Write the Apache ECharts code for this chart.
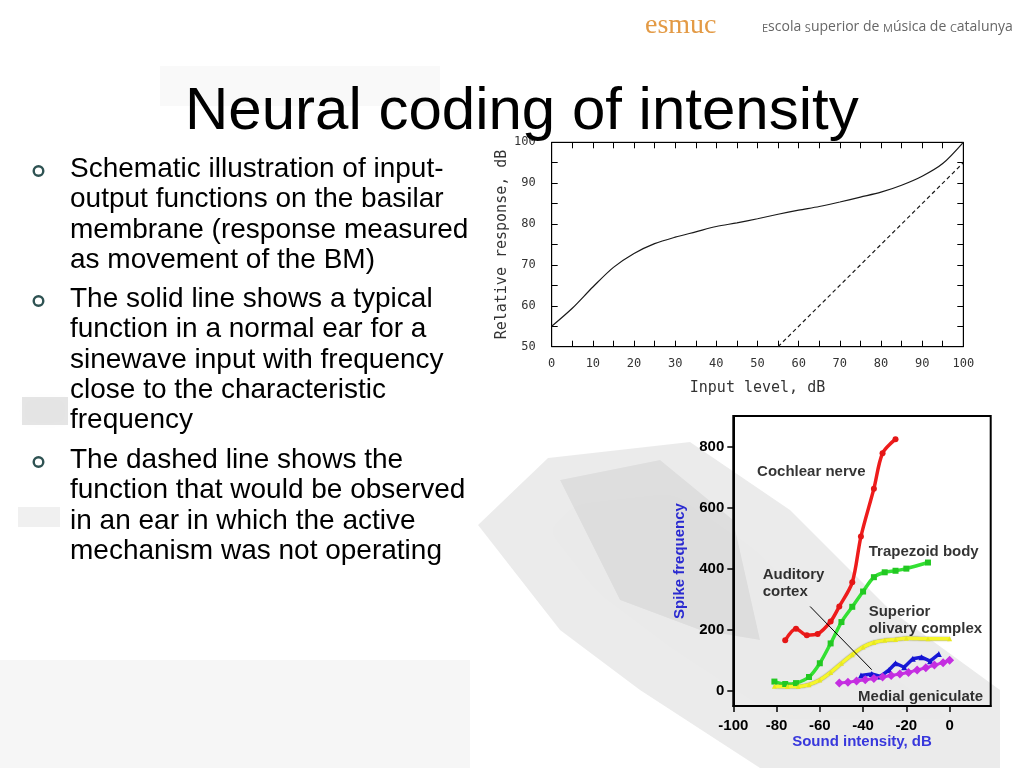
<!DOCTYPE html>
<html><head><meta charset="utf-8">
<script src="https://cdn.jsdelivr.net/npm/echarts@6/dist/echarts.min.js"></script>
<style>html,body{margin:0;padding:0;background:#fff}#c{width:1024px;height:768px}</style>
</head><body><div id="c"></div>
<script>
// ---- Top chart: basilar membrane input-output function ----
const inputLevel = [0,5,10,15,20,25,30,35,40,45,50,55,60,65,70,75,80,85,90,95,100];
const normalResponse = [55,59.4,64.6,69.4,72.8,75.2,76.8,78.1,79.4,80.3,81.3,82.4,83.4,84.3,85.4,86.6,87.8,89.5,91.7,94.8,100];
const passiveInput = [55,100];
const passiveResponse = [50,95];
const topXLabels = [0,10,20,30,40,50,60,70,80,90,100];
const topYLabels = [50,60,70,80,90,100];

// ---- Bottom chart: spike frequency vs sound intensity ----
const cochlearNerve = [[-76,165],[-71,203],[-66,182],[-61,186],[-55,227],[-51,276],[-45,355],[-41,505],[-35,662],[-31,778],[-25,824]];
const trapezoidBody = [[-81,30],[-76,22],[-71,25],[-65,45],[-60,90],[-55,155],[-50,225],[-45,275],[-40,325],[-35,372],[-30,388],[-25,393],[-20,400],[-10,420]];
const superiorOlivary = [[-81,15],[-75,14],[-70,14],[-65,20],[-60,35],[-55,60],[-50,90],[-45,118],[-40,143],[-35,158],[-30,165],[-25,168],[-20,172],[-10,170],[0,170]];
const auditoryCortex = [[-41,50],[-36,55],[-32,47],[-28,68],[-25,90],[-21,77],[-17,105],[-13,110],[-9,97],[-5,120]];
const medialGeniculate = [[-51,25],[-47,28],[-43,32],[-39,36],[-35,40],[-31,45],[-27,50],[-23,55],[-19,60],[-15,68],[-11,75],[-7,84],[-3,92],[0,100]];
const bottomXTicks = [-100,-80,-60,-40,-20,0];
const bottomYTicks = [0,200,400,600,800];
const annoText = ['Cochlear nerve','Trapezoid body','Auditory\ncortex','Superior\nolivary complex','Medial geniculate'];
const annoX = [-89,-37.4,-86.4,-37.4,-42.3];
const annoY = [718,456,351,232,-21];
const arrowStart = [-64.5,276];
const arrowEnd = [-36,69];

const bullets = [
  ['Schematic illustration of input-','output functions on the basilar','membrane (response measured','as movement of the BM)'],
  ['The solid line shows a typical','function in a normal ear for a','sinewave input with frequency','close to the characteristic','frequency'],
  ['The dashed line shows the','function that would be observed','in an ear in which the active','mechanism was not operating']
];

const chart = echarts.init(document.getElementById('c'), null, {renderer:'canvas'});

const graphics = [];
// soft grey background patches of the slide
const bg = [
  {t:'poly', pts:[[478,525],[548,458],[690,442],[790,510],[890,610],[1000,690],[1000,768],[760,768],[640,690],[560,630]], c:'rgba(0,0,0,0.08)', b:40},
  {t:'poly', pts:[[560,480],[660,460],[733,520],[760,640],[700,630],[620,600]], c:'rgba(0,0,0,0.06)', b:30},
  {t:'rect', x:22, y:397, w:46, h:28, c:'rgba(0,0,0,0.10)', b:12},
  {t:'rect', x:18, y:507, w:42, h:20, c:'rgba(0,0,0,0.06)', b:12},
  {t:'rect', x:0, y:660, w:470, h:108, c:'rgba(0,0,0,0.035)', b:30},
  {t:'rect', x:160, y:66, w:280, h:40, c:'rgba(0,0,0,0.025)', b:30}
];
bg.forEach(b => {
  if (b.t === 'poly') graphics.push({type:'polygon', z:-20, silent:true, shape:{points:b.pts}, style:{fill:b.c, shadowBlur:b.b, shadowColor:b.c}});
  else graphics.push({type:'rect', z:-20, silent:true, shape:{x:b.x,y:b.y,width:b.w,height:b.h}, style:{fill:b.c, shadowBlur:b.b, shadowColor:b.c}});
});
// white panel behind top chart image
graphics.push({type:'rect', z:-10, silent:true, shape:{x:486,y:130,width:496,height:272}, style:{fill:'#fff'}});

// header
graphics.push({type:'text', z:10, left:645, top:12, style:{text:'esmuc', font:'28px "Liberation Serif"', fill:'#e39a45'}});
graphics.push({type:'text', z:10, left:762, top:20, style:{
  text:'{c|E}scola {c|S}uperior de {c|M}úsica de {c|C}atalunya',
  font:'14px "Open Sans"', fill:'#666',
  rich:{c:{fontSize:11, fontFamily:'Open Sans', fill:'#666', verticalAlign:'bottom'}}
}});
// title
graphics.push({type:'text', z:10, left:185, top:82, style:{text:'Neural coding of intensity', font:'60px "Liberation Sans"', fill:'#000'}});

// bullets
const bulletStarts = [179,309,470];
const lineStep = 30.3;
bullets.forEach((lines, bi) => {
  const b0 = bulletStarts[bi];
  graphics.push({type:'circle', z:10, shape:{cx:38.5, cy:b0-8, r:4.8}, style:{fill:'none', stroke:'#2e5252', lineWidth:2.4}});
  lines.forEach((ln, li) => {
    graphics.push({type:'text', z:10, x:70, y:b0 + li*lineStep - 9.7, style:{text:ln, font:'28px "Liberation Sans"', fill:'#000', verticalAlign:'middle'}});
  });
});

const monoFont = 'DejaVu Sans Mono';
const topAxisCommon = {
  type:'value', gridIndex:0, interval:5,
  axisLine:{show:true, onZero:false, lineStyle:{color:'#000', width:1}},
  axisTick:{show:true, inside:true, length:6, lineStyle:{color:'#000', width:1}},
  splitLine:{show:false}
};
const boldFont = {fontFamily:'Liberation Sans', fontWeight:'bold', fontSize:15, color:'#000'};

chart.setOption({
  animation:false,
  backgroundColor:'transparent',
  graphic:graphics,
  grid:[
    {left:551.7, top:142.3, width:411.6, height:204.4, show:true, borderColor:'#000', borderWidth:1, backgroundColor:'transparent'},
    {left:733.3, top:416, width:257.4, height:290, show:true, borderColor:'#000', borderWidth:2, backgroundColor:'transparent'}
  ],
  xAxis:[
    Object.assign({}, topAxisCommon, {min:0, max:100, position:'bottom',
      axisLabel:{show:true, margin:11, fontFamily:monoFont, fontSize:12, color:'#333',
        formatter:v => topXLabels.indexOf(v) >= 0 ? String(v) : ''},
      name:'Input level, dB', nameLocation:'middle', nameGap:34,
      nameTextStyle:{fontFamily:monoFont, fontSize:15, color:'#333'}}),
    Object.assign({}, topAxisCommon, {min:0, max:100, position:'top', axisLabel:{show:false}}),
    {type:'value', gridIndex:1, min:-100, max:19, position:'bottom',
      axisLine:{show:true, onZero:false, lineStyle:{color:'#000', width:2}},
      axisTick:{show:true, inside:false, length:6, customValues:bottomXTicks, lineStyle:{color:'#000', width:1.5}},
      axisLabel:Object.assign({show:true, margin:12, customValues:bottomXTicks}, boldFont),
      splitLine:{show:false},
      name:'Sound intensity, dB', nameLocation:'middle', nameGap:28,
      nameTextStyle:{fontFamily:'Liberation Sans', fontWeight:'bold', fontSize:15, color:'#3838dc'}}
  ],
  yAxis:[
    Object.assign({}, topAxisCommon, {min:50, max:100, position:'left',
      axisLabel:{show:true, margin:16, fontFamily:monoFont, fontSize:12, color:'#333',
        formatter:v => topYLabels.indexOf(v) >= 0 ? String(v) : ''},
      name:'Relative response, dB', nameLocation:'middle', nameGap:42,
      nameTextStyle:{fontFamily:monoFont, fontSize:15, color:'#333'}}),
    Object.assign({}, topAxisCommon, {min:50, max:100, position:'right', axisLabel:{show:false}}),
    {type:'value', gridIndex:1, min:-50, max:900, position:'left',
      axisLine:{show:true, onZero:false, lineStyle:{color:'#000', width:2}},
      axisTick:{show:true, inside:false, length:6, customValues:bottomYTicks, lineStyle:{color:'#000', width:1.5}},
      axisLabel:Object.assign({show:true, margin:9, customValues:bottomYTicks}, boldFont),
      splitLine:{show:false},
      name:'Spike frequency', nameLocation:'middle', nameGap:46,
      nameTextStyle:{fontFamily:'Liberation Sans', fontWeight:'bold', fontSize:15, color:'#2a2ad0'}}
  ],
  series:[
    {type:'line', xAxisIndex:0, yAxisIndex:0, data:inputLevel.map((x,i)=>[x, normalResponse[i]]),
      showSymbol:false, smooth:0.3, lineStyle:{color:'#1a1a1a', width:1.2}},
    {type:'line', xAxisIndex:0, yAxisIndex:0, data:passiveInput.map((x,i)=>[x, passiveResponse[i]]),
      showSymbol:false, lineStyle:{color:'#1a1a1a', width:1.2, type:[4,3]}},
    {type:'line', xAxisIndex:2, yAxisIndex:2, data:trapezoidBody, smooth:0.3,
      symbol:'rect', symbolSize:6, itemStyle:{color:'#22c822'}, lineStyle:{color:'#33e033', width:3.5}},
    {type:'line', xAxisIndex:2, yAxisIndex:2, data:superiorOlivary, smooth:0.3,
      symbol:'triangle', symbolSize:5, itemStyle:{color:'#e8e820'},
      lineStyle:{color:'#f6f62a', width:3.5, shadowColor:'rgba(80,80,0,0.7)', shadowBlur:1.5}},
    {type:'line', xAxisIndex:2, yAxisIndex:2, data:cochlearNerve, smooth:0.3,
      symbol:'circle', symbolSize:6, itemStyle:{color:'#e41616'}, lineStyle:{color:'#ee1c1c', width:3.5}},
    {type:'line', xAxisIndex:2, yAxisIndex:2, data:auditoryCortex,
      symbol:'triangle', symbolSize:6, itemStyle:{color:'#1414d0'}, lineStyle:{color:'#1a1ad8', width:3.5},
      markLine:{silent:true, symbol:['none','arrow'], symbolSize:[0,8], animation:false,
        lineStyle:{color:'#000', width:1, type:'solid'}, label:{show:false},
        data:[[{coord:arrowStart},{coord:arrowEnd}]]}},
    {type:'line', xAxisIndex:2, yAxisIndex:2, data:medialGeniculate,
      symbol:'diamond', symbolSize:9, itemStyle:{color:'#c42ee0'}, lineStyle:{color:'#cc33e6', width:3}},
    {type:'scatter', xAxisIndex:2, yAxisIndex:2, symbolSize:0, silent:true, z:10,
      data:annoText.map((t,i)=>({value:[annoX[i], annoY[i]], name:t})),
      label:{show:true, position:'right', distance:0, formatter:p=>p.name, align:'left', verticalAlign:'middle',
        fontFamily:'Liberation Sans', fontWeight:'bold', fontSize:15, lineHeight:17, color:'#000'}}
  ]
});
</script></body></html>
